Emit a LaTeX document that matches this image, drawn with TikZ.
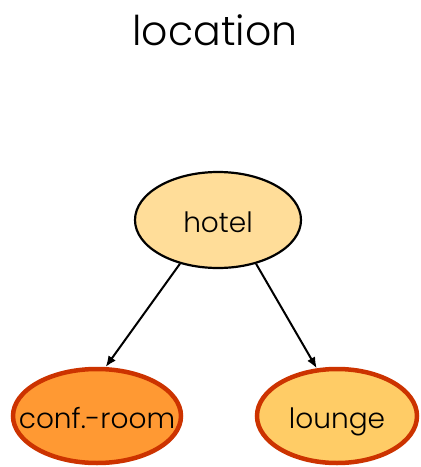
\documentclass[tikz,border=0pt]{standalone}
\usepackage{fontspec}
\setmainfont{Poppins}[UprightFont=* Light]
\usetikzlibrary{arrows.meta,shapes.geometric}
\definecolor{hotelfill}{HTML}{FFDD99}
\definecolor{conffill}{HTML}{FF9933}
\definecolor{loungefill}{HTML}{FFCC66}
\definecolor{leafline}{HTML}{CC3300}

\begin{document}
\begin{tikzpicture}[
  x=1pt, y=-1pt,
  place/.style={ellipse, draw, inner sep=0pt, text height=24pt, text depth=0pt,
    font=\fontsize{28}{28}\selectfont},
  leaf/.style={place, draw=leafline, line width=4.5pt},
  edge/.style={-{Latex[length=11pt,width=9pt]}, line width=2pt}
]
\useasboundingbox (0,0) rectangle (421,467);
% title
\node[font=\fontsize{41}{41}\selectfont] (title) at (215,30) {location};
% root
\node[place, fill=hotelfill, line width=2.2pt, minimum width=166, minimum height=96] (hotel) at (218,220) {hotel};
% children
\node[leaf, fill=conffill, minimum width=168, minimum height=94] (conf) at (97,416) {\makebox[0pt]{conf.-room}};
\node[leaf, fill=loungefill, minimum width=160, minimum height=94] (lounge) at (337,416) {\makebox[0pt]{lounge}};

\draw[edge] (hotel.229) -- (conf.80);
\draw[edge] (hotel.311) -- (lounge.113);
\end{tikzpicture}
\end{document}
